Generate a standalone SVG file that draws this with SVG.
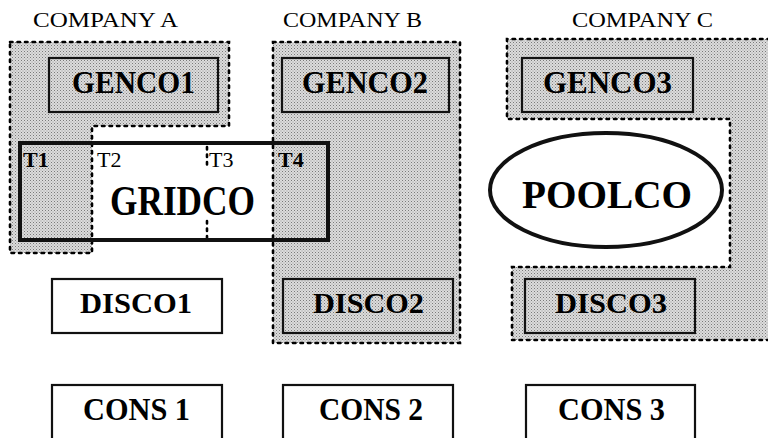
<svg xmlns="http://www.w3.org/2000/svg" width="768" height="438" viewBox="0 0 768 438">
<defs>
<pattern id="ht" width="3" height="3" patternUnits="userSpaceOnUse">
<rect width="3" height="3" fill="#dcdcdc"/>
<rect x="0" y="0" width="1" height="1" fill="#7a7a7a"/>
<rect x="1.5" y="1.5" width="1" height="1" fill="#9a9a9a"/>
</pattern>
</defs>
<style>
.reg{fill:url(#ht);stroke:#000;stroke-width:2.6;stroke-dasharray:2.5 5;stroke-linecap:round}
.dot{fill:none;stroke:#000;stroke-width:2.6;stroke-dasharray:2.5 5;stroke-linecap:round}
.seam{fill:none;stroke:#bbb;stroke-width:1.5;stroke-dasharray:2 4}
.box{fill:none;stroke:#111;stroke-width:2.2}
.wbox{fill:#fff;stroke:#111;stroke-width:2.2}
.thick{fill:none;stroke:#111;stroke-width:4}
.lbl{font-family:"Liberation Serif","Times New Roman",serif;font-weight:bold;fill:#000}
.co{font-family:"Liberation Serif","Times New Roman",serif;font-size:21px;fill:#000}
.t{font-family:"Liberation Serif","Times New Roman",serif;font-size:22px;fill:#000}
</style>
<rect width="768" height="438" fill="#fff"/>

<g id="companyA">
<polygon class="reg" points="10,42 229,42 229,126 92,126 92,253 10,253"/>
<text class="co" x="33" y="27" textLength="145" lengthAdjust="spacingAndGlyphs">COMPANY A</text>
</g>
<g id="companyB">
<rect class="reg" x="273" y="42" width="187" height="301"/>
<text class="co" x="283" y="27" textLength="139" lengthAdjust="spacingAndGlyphs">COMPANY B</text>
</g>
<g id="companyC">
<polygon fill="url(#ht)" points="507,39 770,39 770,340 512,340 512,267 730,267 730,119 507,119"/>
<polyline class="dot" points="770,39 507,39 507,119 730,119 730,267 512,267 512,340 770,340"/>
<line class="seam" x1="731" y1="40" x2="731" y2="118"/>
<text class="co" x="572" y="27" textLength="141" lengthAdjust="spacingAndGlyphs">COMPANY C</text>
</g>

<g id="genco1">
<rect class="box" x="49" y="58" width="169" height="54"/>
<text class="lbl" x="72" y="93" font-size="31" textLength="123" lengthAdjust="spacingAndGlyphs">GENCO1</text>
</g>
<g id="genco2">
<rect class="box" x="282" y="58" width="167" height="54"/>
<text class="lbl" x="302" y="93" font-size="31" textLength="126" lengthAdjust="spacingAndGlyphs">GENCO2</text>
</g>
<g id="genco3">
<rect class="box" x="522" y="58" width="171" height="54"/>
<text class="lbl" x="543" y="93" font-size="31" textLength="129" lengthAdjust="spacingAndGlyphs">GENCO3</text>
</g>

<g id="gridco">
<line class="dot" x1="207" y1="147" x2="207" y2="165"/>
<line class="dot" x1="207" y1="221" x2="207" y2="239"/>
<rect class="thick" x="20" y="143" width="308" height="97"/>
<text class="lbl" x="110" y="215" font-size="42" textLength="145" lengthAdjust="spacingAndGlyphs">GRIDCO</text>
<text class="t" x="23" y="167" font-weight="bold">T1</text>
<text class="t" x="97" y="167">T2</text>
<text class="t" x="209" y="167">T3</text>
<text class="t" x="278" y="167" font-weight="bold">T4</text>
</g>

<g id="poolco">
<ellipse cx="606" cy="190" rx="116" ry="57" fill="none" stroke="#111" stroke-width="4"/>
<text class="lbl" x="522" y="208" font-size="40" textLength="170" lengthAdjust="spacingAndGlyphs">POOLCO</text>
</g>

<g id="disco1">
<rect class="wbox" x="52" y="279" width="170" height="54"/>
<text class="lbl" x="80" y="313" font-size="30" textLength="112" lengthAdjust="spacingAndGlyphs">DISCO1</text>
</g>
<g id="disco2">
<rect class="box" x="283" y="279" width="170" height="54"/>
<text class="lbl" x="313" y="313" font-size="30" textLength="111" lengthAdjust="spacingAndGlyphs">DISCO2</text>
</g>
<g id="disco3">
<rect class="box" x="525" y="279" width="170" height="54"/>
<text class="lbl" x="555" y="313" font-size="30" textLength="112" lengthAdjust="spacingAndGlyphs">DISCO3</text>
</g>

<g id="cons1">
<rect class="wbox" x="52" y="385" width="170" height="70"/>
<text class="lbl" x="83" y="420" font-size="32" textLength="107" lengthAdjust="spacingAndGlyphs">CONS 1</text>
</g>
<g id="cons2">
<rect class="wbox" x="283" y="385" width="170" height="70"/>
<text class="lbl" x="319" y="420" font-size="32" textLength="104" lengthAdjust="spacingAndGlyphs">CONS 2</text>
</g>
<g id="cons3">
<rect class="wbox" x="526" y="385" width="169" height="70"/>
<text class="lbl" x="558" y="420" font-size="32" textLength="107" lengthAdjust="spacingAndGlyphs">CONS 3</text>
</g>

<g id="connectors"></g>
</svg>
